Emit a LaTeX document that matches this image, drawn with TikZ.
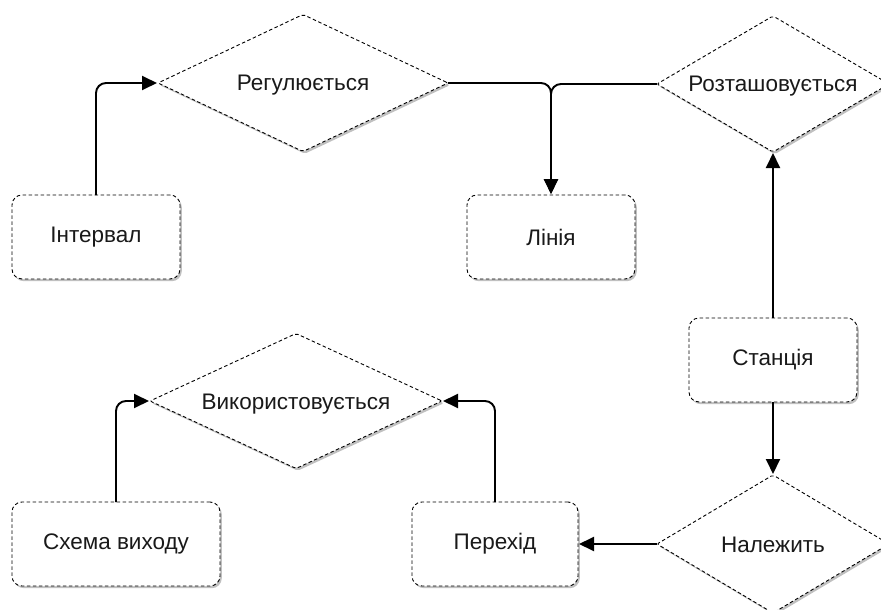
\documentclass[tikz,border=0pt]{standalone}
\usepackage{fontspec}
\setmainfont{Liberation Sans}
\usetikzlibrary{shapes.geometric,shadows,arrows.meta}

\tikzset{
  dashline/.style={draw=black, line width=0.9pt, dash pattern=on 3.5pt off 2.5pt},
  soft/.style={drop shadow={shadow xshift=1.8pt, shadow yshift=-2.2pt, fill=black!45, opacity=0.55}},
  labelfont/.style={font=\fontsize{22.5}{26}\selectfont, text=black!90},
  entity/.style={dashline, soft, fill=white, rectangle, rounded corners=10pt,
    minimum height=84pt, inner sep=0pt, outer sep=0pt, labelfont},
  relation/.style={dashline, soft, fill=white, diamond, rounded corners=2pt,
    inner sep=0pt, outer sep=0pt, labelfont, text height=16pt, text depth=0pt},
  link/.style={line width=1.9pt, rounded corners=10pt, shorten >=1pt,
    -{Triangle[length=15pt,width=14pt]}}
}
% diamond labels are set in a zero-width box so the diamond keeps its given size
\newcommand\dlabel[1]{\makebox[0pt]{#1}}

\begin{document}
\begin{tikzpicture}[x=1pt, y=-1pt]
  \path[use as bounding box, clip] (0,0) rectangle (881,610);

  % entities
  \node[entity, minimum width=168pt] (int) at (96,237) {Інтервал};
  \node[entity, minimum width=168pt] (lin) at (551,237) {Лінія};
  \node[entity, minimum width=168pt] (sta) at (773,360) {Станція};
  \node[entity, minimum width=166pt] (per) at (495,544) {Перехід};
  \node[entity, minimum width=208pt] (sch) at (116,544) {Схема виходу};

  % relationships
  \node[relation, minimum width=290pt, minimum height=137pt] (reg) at (303,83) {\dlabel{Регулюється}};
  \node[relation, minimum width=232pt, minimum height=136pt] (roz) at (773,84) {\dlabel{Розташовується}};
  \node[relation, minimum width=292pt, minimum height=135pt] (vyk) at (296,401) {\dlabel{Використовується}};
  \node[relation, minimum width=232pt, minimum height=138pt] (nal) at (773,544) {\dlabel{Належить}};

  % connectors
  \draw[link] (int.north) |- (reg.west);
  \draw[link] (reg.east) -| (lin.north);
  \draw[link] (roz.west) -| (lin.north);
  \draw[link] (sta.north) -- (roz.south);
  \draw[link] (sta.south) -- (nal.north);
  \draw[link] (nal.west) -- (per.east);
  \draw[link] (sch.north) |- (vyk.west);
  \draw[link] (per.north) |- (vyk.east);
\end{tikzpicture}
\end{document}
